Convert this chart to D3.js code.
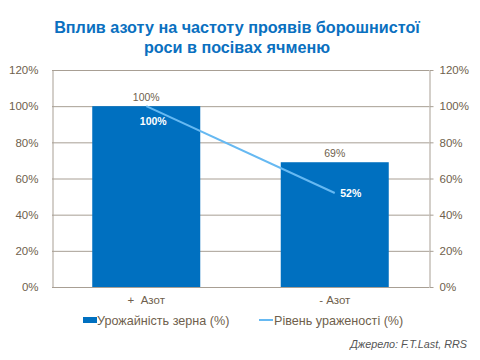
<!DOCTYPE html>
<html><head><meta charset="utf-8">
<script src="https://cdn.jsdelivr.net/npm/d3@7"></script>
<style>body{margin:0;background:#fff}svg{display:block}</style>
</head><body><svg id="c" width="480" height="360"></svg>
<script>
const categories = ["+  Азот", "- Азот"];
const yieldValues = [100, 69];
const infectionValues = [100, 52];
const tickValues = [0, 20, 40, 60, 80, 100, 120];
const titleLines = ["Вплив азоту на частоту проявів борошнистої", "роси в посівах ячменю"];
const legendLabels = ["Урожайність зерна (%)", "Рівень ураженості (%)"];
const sourceText = "Джерело: F.T.Last, RRS";

const svg = d3.select("#c");
const font = "'Liberation Sans', Arial, sans-serif";
const textCol = "#6f5f4d";
const axisCol = "#a89f94";
const barCol = "#0070c0";
const lineCol = "#66b9f2";
const L = 52, R = 429, T = 70, B = 287;

const x = d3.scaleBand().domain(categories).range([L, R]).paddingInner(0.427).paddingOuter(0.2135);
const y = d3.scaleLinear().domain([0, 120]).range([B, T]);

// title
svg.append("g").selectAll("text").data(titleLines).join("text")
  .attr("x", 237).attr("y", (d, i) => 33 + i * 20)
  .attr("text-anchor", "middle").attr("font-family", font).attr("font-weight", "bold")
  .attr("font-size", 16.2).attr("fill", "#0a70c0").text(d => d);

// gridlines
svg.append("g").selectAll("line").data(tickValues.filter(d => d > 0)).join("line")
  .attr("x1", L).attr("x2", R).attr("y1", d => y(d) + 0.5).attr("y2", d => y(d) + 0.5)
  .attr("stroke", axisCol).attr("stroke-width", 1);

// bars
svg.append("g").selectAll("rect").data(yieldValues).join("rect")
  .attr("x", (d, i) => x(categories[i])).attr("width", x.bandwidth())
  .attr("y", d => y(d)).attr("height", d => B - y(d)).attr("fill", barCol);

// left axis
const la = svg.append("g").attr("transform", `translate(${L + 0.5},0)`)
  .call(d3.axisLeft(y).tickValues(tickValues).tickFormat(d => d + "%").tickSize(0).tickPadding(14));
la.select(".domain").attr("stroke", axisCol);
la.selectAll("text").attr("font-family", font).attr("font-size", 11.5).attr("fill", textCol);

// right axis
const ra = svg.append("g").attr("transform", `translate(${R + 0.5},0)`)
  .call(d3.axisRight(y).tickValues(tickValues).tickFormat(d => d + "%").tickSizeInner(4).tickSizeOuter(0).tickPadding(6));
ra.select(".domain").attr("stroke", axisCol);
ra.selectAll("line").attr("stroke", axisCol);
ra.selectAll("text").attr("font-family", font).attr("font-size", 11.5).attr("fill", textCol);

// bottom axis line
svg.append("line").attr("x1", L).attr("x2", R).attr("y1", B + 0.5).attr("y2", B + 0.5).attr("stroke", axisCol);

// category labels
svg.append("g").selectAll("text").data(categories).join("text")
  .attr("x", d => x(d) + x.bandwidth() / 2).attr("y", 304)
  .attr("text-anchor", "middle").attr("font-family", font).attr("font-size", 11.5)
  .attr("fill", textCol).attr("xml:space", "preserve").style("white-space", "pre").text(d => d);

// line
const cx = i => x(categories[i]) + x.bandwidth() / 2;
const line = d3.line().x((d, i) => cx(i)).y(d => y(d));
svg.append("path").datum(infectionValues).attr("d", line)
  .attr("fill", "none").attr("stroke", lineCol).attr("stroke-width", 2);

// bar labels
svg.append("g").selectAll("text").data(yieldValues).join("text")
  .attr("x", (d, i) => cx(i)).attr("y", d => y(d) - 5)
  .attr("text-anchor", "middle").attr("font-family", font).attr("font-size", 10.5)
  .attr("fill", textCol).text(d => d + "%");

// line labels
svg.append("g").selectAll("text").data(infectionValues).join("text")
  .attr("x", (d, i) => cx(i) + 7 + i * 9).attr("y", (d, i) => y(d) + (i === 0 ? 19 : 4))
  .attr("text-anchor", "middle").attr("font-family", font).attr("font-size", 10.5)
  .attr("font-weight", "bold").attr("fill", "#ffffff").text(d => d + "%");

// legend
const lg = svg.append("g");
lg.append("rect").attr("x", 83).attr("y", 317).attr("width", 14).attr("height", 6).attr("fill", barCol);
lg.append("text").attr("x", 97).attr("y", 324.5).attr("font-family", font).attr("font-size", 12.6)
  .attr("fill", textCol).text(legendLabels[0]);
lg.append("line").attr("x1", 259).attr("x2", 273).attr("y1", 320).attr("y2", 320)
  .attr("stroke", lineCol).attr("stroke-width", 2);
lg.append("text").attr("x", 274).attr("y", 324.5).attr("font-family", font).attr("font-size", 12.6)
  .attr("fill", textCol).text(legendLabels[1]);

// source
svg.append("text").attr("x", 467).attr("y", 348).attr("text-anchor", "end")
  .attr("font-family", font).attr("font-size", 10.8).attr("font-style", "italic")
  .attr("fill", "#555555").text(sourceText);
</script></body></html>
